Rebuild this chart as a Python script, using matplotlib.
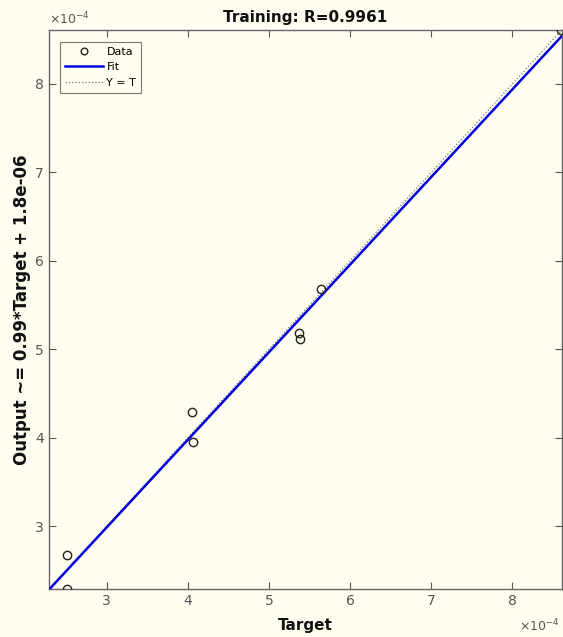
import matplotlib
matplotlib.use("Agg")
import matplotlib.pyplot as plt
import numpy as np

# Data (values in units of 1e-4)
target = [2.51, 2.51, 4.05, 4.06, 5.37, 5.38, 5.64, 8.60]
output = [2.68, 2.29, 4.29, 3.95, 5.19, 5.12, 5.68, 8.61]
fit_slope = 0.99
fit_offset = 0.018  # 1.8e-06 in units of 1e-4
xticks = [3, 4, 5, 6, 7, 8]
yticks = [3, 4, 5, 6, 7, 8]
title = "Training: R=0.9961"
xlabel = "Target"
ylabel = "Output ~= 0.99*Target + 1.8e-06"

bg = "#fffdf0"
fig = plt.figure(figsize=(5.63, 6.37), dpi=100, facecolor=bg)
ax = fig.add_axes([0.087, 0.075, 0.911, 0.878], facecolor=bg)

lo = min(min(target), min(output))
hi = max(max(target), max(output))
xs = np.array([lo, hi])

ax.plot(target, output, 'o', mfc='none', mec='#222222', ms=6, mew=1.0, label='Data', zorder=4)
ax.plot(xs, fit_slope * xs + fit_offset, '-', color='#0000dd', lw=1.8, label='Fit', zorder=3)
ax.plot(xs, xs, ':', color='#777777', lw=0.9, label='Y = T', zorder=2)

ax.set_xlim(lo, hi)
ax.set_ylim(lo, hi)
ax.set_xticks(xticks)
ax.set_yticks(yticks)
ax.set_xticklabels([str(t) for t in xticks])
ax.set_yticklabels([str(t) for t in yticks])
ax.tick_params(direction='in', top=True, right=True, length=5, width=0.8,
               color='#555555', labelcolor='#555555', labelsize=10)
for s in ax.spines.values():
    s.set_color('#666666')
    s.set_linewidth(1.0)

ax.set_title(title, fontsize=11, fontweight='bold', pad=6, color='#111111')
ax.set_xlabel(xlabel, fontsize=11, fontweight='bold', labelpad=7, color='#111111')
ax.set_ylabel(ylabel, fontsize=12, fontweight='bold', labelpad=3, color='#111111')

ax.text(0.0, 1.005, r"$\times10^{-4}$", transform=ax.transAxes, ha='left', va='bottom',
        fontsize=9, color='#555555')
fig.text(0.995, 0.005, r"$\times10^{-4}$", ha='right', va='bottom', fontsize=9, color='#555555')

leg = ax.legend(loc='upper left', bbox_to_anchor=(0.021, 0.979), fontsize=8, frameon=True,
                fancybox=False, edgecolor='#555555', handlelength=3.4, borderpad=0.45,
                labelspacing=0.5, handletextpad=0.35, borderaxespad=0.0, markerscale=0.8)
leg.get_frame().set_linewidth(0.8)
leg.get_frame().set_facecolor(bg)

fig.savefig("out.png", dpi=100, facecolor=bg)
